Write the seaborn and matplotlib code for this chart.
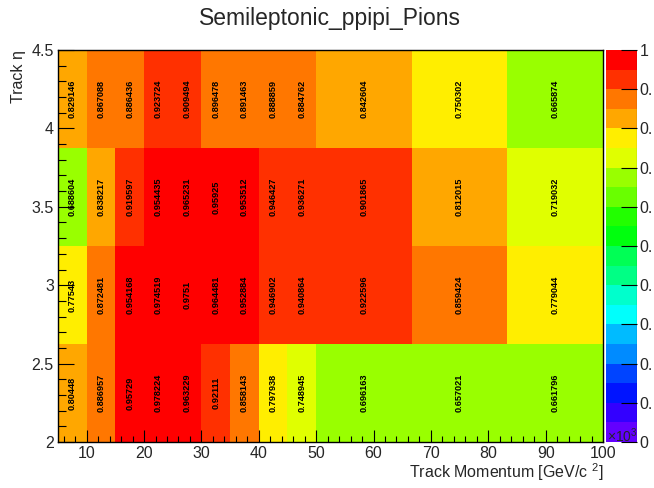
import colorsys

import numpy as np
import pandas as pd
import matplotlib
matplotlib.use("Agg")
import matplotlib.pyplot as plt
from matplotlib.colors import ListedColormap
from matplotlib.ticker import MultipleLocator, FormatStrFormatter
import seaborn as sns

# Bin edges of the efficiency map
momentum_edges = [5, 10, 15, 20, 25, 30, 35, 40, 45, 50, 66.6667, 83.3333, 100]
eta_edges = [2.0, 2.625, 3.25, 3.875, 4.5]

# Efficiency per momentum bin, one list per eta row (bottom to top)
eff_eta_2p000 = [0.80448, 0.886957, 0.95729, 0.978224, 0.963229, 0.92111,
                 0.858143, 0.797938, 0.748945, 0.696163, 0.657021, 0.661796]
eff_eta_2p625 = [0.77543, 0.872481, 0.954168, 0.974519, 0.9751, 0.964481,
                 0.952884, 0.946902, 0.940864, 0.922596, 0.859424, 0.779044]
eff_eta_3p250 = [0.688604, 0.838217, 0.919597, 0.954435, 0.965231, 0.95925,
                 0.953512, 0.946427, 0.936271, 0.901865, 0.812015, 0.719032]
eff_eta_3p875 = [0.829146, 0.867088, 0.886436, 0.923724, 0.909494, 0.896478,
                 0.891463, 0.888859, 0.884762, 0.842604, 0.750302, 0.665874]

eff_rows = [eff_eta_2p000, eff_eta_2p625, eff_eta_3p250, eff_eta_3p875]

# Colour-scale labels as they appear at the canvas edge
colorbar_ticks = [0.0, 0.1, 0.2, 0.3, 0.4, 0.5, 0.6, 0.7, 0.8, 0.9, 1.0]
colorbar_labels = ["0", "0.", "0.", "0.", "0.", "0.", "0.", "0.", "0.", "0.", "1"]

# Long-form table: one weighted entry per bin centre
records = []
for j, row in enumerate(eff_rows):
    eta_c = 0.5 * (eta_edges[j] + eta_edges[j + 1])
    for i, v in enumerate(row):
        p_c = 0.5 * (momentum_edges[i] + momentum_edges[i + 1])
        records.append({"p": p_c, "eta": eta_c, "eff": v})
df = pd.DataFrame(records)


def pretty_palette(n_levels=20, n_colors=50):
    """Violet-to-red HLS spectrum sampled into discrete contour levels."""
    hues = [280 - (i + 1) * 280 / n_colors for i in range(n_colors)]
    cols = []
    for k in range(n_levels):
        idx = min(int((k + 0.99) * n_colors / n_levels), n_colors - 1)
        cols.append(colorsys.hls_to_rgb(hues[idx] / 360.0, 0.5, 1.0))
    return ListedColormap(cols)


sns.set_theme(style="white")
plt.rcParams["font.family"] = ["Liberation Sans", "DejaVu Sans"]
plt.rcParams["mathtext.fontset"] = "custom"
plt.rcParams["mathtext.rm"] = "Liberation Sans"
plt.rcParams["mathtext.it"] = "Liberation Sans:italic"

W, H = 654, 488
fig = plt.figure(figsize=(W / 100, H / 100), dpi=100)
ax = fig.add_axes([58 / W, 1 - 442 / H, 545 / W, 392 / H])
cax = fig.add_axes([606 / W, 1 - 442 / H, 31 / W, 392 / H])

sns.histplot(
    data=df, x="p", y="eta", weights="eff",
    bins=(momentum_edges, eta_edges),
    cmap=pretty_palette(), vmin=0, vmax=1,
    cbar=True, cbar_ax=cax, ax=ax,
)
ax.set_axisbelow(False)
cax.set_axisbelow(False)

# Bin contents written into each cell
for j, row in enumerate(eff_rows):
    eta_c = 0.5 * (eta_edges[j] + eta_edges[j + 1])
    for i, v in enumerate(row):
        p_c = 0.5 * (momentum_edges[i] + momentum_edges[i + 1])
        ax.text(p_c, eta_c, f"{v:g}", rotation=90, ha="center", va="center",
                fontsize=6.6, fontweight="bold", color="black")

ax.set_xlim(momentum_edges[0], momentum_edges[-1])
ax.set_ylim(eta_edges[0], eta_edges[-1])
ax.set_xlabel("")
ax.set_ylabel("")

for s in ax.spines.values():
    s.set_visible(True)
    s.set_color("black")
    s.set_linewidth(1.0)
    s.set_zorder(5)

ax.xaxis.set_major_locator(MultipleLocator(10))
ax.xaxis.set_minor_locator(MultipleLocator(2))
ax.yaxis.set_major_locator(MultipleLocator(0.5))
ax.yaxis.set_minor_locator(MultipleLocator(0.1))
ax.yaxis.set_major_formatter(FormatStrFormatter("%g"))
ax.tick_params(axis="x", which="major", direction="in", length=8.5, width=0.8,
               color="black", labelsize=11.5, pad=3, bottom=True, top=False)
ax.tick_params(axis="x", which="minor", direction="in", length=4.3, width=0.8,
               color="black", bottom=True, top=False)
ax.tick_params(axis="y", which="major", direction="in", length=11.5, width=0.8,
               color="black", labelsize=11.5, pad=3, left=True, right=False)
ax.tick_params(axis="y", which="minor", direction="in", length=5.8, width=0.8,
               color="black", left=True, right=False)

# Colour scale on the right
cbar = ax.collections[0].colorbar
cbar.outline.set_visible(False)
cax.set_yticks(colorbar_ticks)
cax.set_yticklabels(colorbar_labels)
cax.yaxis.set_ticks_position("right")
cax.tick_params(axis="y", which="major", direction="in", length=11.5, width=0.8,
                color="black", labelsize=11.5, pad=2, right=True, left=False)
cax.minorticks_off()
cax.axvline(1.0, color="black", lw=0.8, zorder=5)

fig.text(0.505, 1 - 19 / H, "Semileptonic_ppipi_Pions", ha="center", va="center",
         fontsize=16.5)
fig.text(603 / W, 1 - 472 / H, "Track Momentum [GeV/c $^{2}$]", ha="right",
         va="center", fontsize=11.5)
fig.text(18 / W, 1 - 50 / H, "Track η", rotation=90, ha="center", va="top",
         fontsize=11.5)
fig.text(607 / W, 1 - 436 / H, "×10$^{3}$", ha="left", va="center", fontsize=10)

fig.savefig("out.png", dpi=100)
